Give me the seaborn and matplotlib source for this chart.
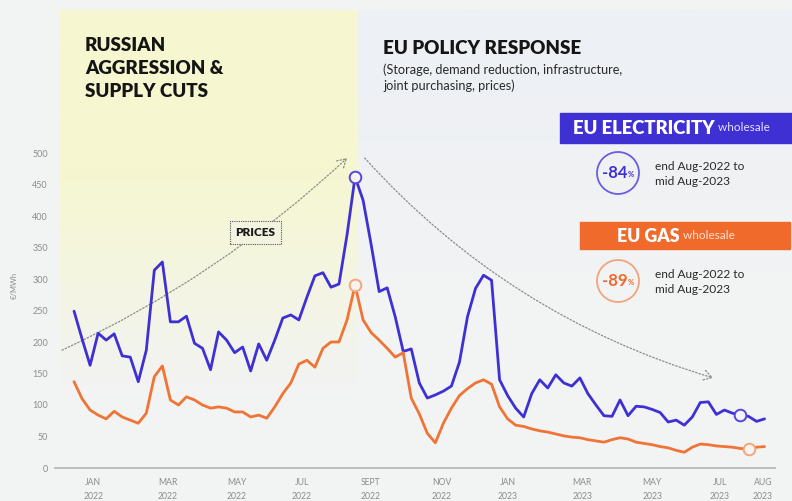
import numpy as np
import pandas as pd
import matplotlib
matplotlib.use("Agg")
import matplotlib.pyplot as plt
import seaborn as sns
from matplotlib.patches import Rectangle, Ellipse
from matplotlib.text import Annotation

# Weekly wholesale prices, EUR/MWh, mid-Dec 2021 to mid-Aug 2023
electricity = [
    249, 205, 163, 214, 203, 213, 178, 176, 137, 187,
    314, 327, 232, 232, 241, 198, 190, 156, 216, 203,
    183, 192, 154, 197, 171, 203, 238, 243, 235, 271,
    305, 310, 287, 292, 370, 462, 425, 355, 280, 286,
    240, 185, 189, 135, 111, 116, 122, 130, 168, 240,
    285, 306, 298, 140, 115, 95, 81, 118, 140, 127,
    148, 135, 130, 143, 118, 100, 83, 82, 108, 83,
    98, 97, 93, 88, 73, 76, 68, 81, 104, 105,
    85, 92, 87, 84, 82, 74, 78,
]
gas = [
    137, 110, 92, 84, 78, 90, 81, 76, 71, 87,
    145, 162, 108, 100, 113, 108, 100, 95, 97, 95,
    89, 89, 81, 84, 79, 97, 118, 135, 165, 171,
    160, 190, 200, 200, 235, 290, 235, 215, 203, 190,
    176, 183, 111, 86, 55, 40, 71, 95, 115, 126,
    135, 140, 133, 97, 78, 68, 66, 62, 59, 57,
    54, 51, 49, 48, 45, 43, 41, 45, 48, 46,
    41, 39, 37, 34, 32, 28, 25, 33, 38, 37,
    35, 34, 33, 31, 30, 33, 34,
]
weeks = list(range(len(electricity)))

tick_weeks = [2.4, 11.7, 20.3, 28.4, 36.9, 45.8, 54.0, 63.3, 72.0, 80.4, 85.8]
tick_labels = ["JAN\n2022", "MAR\n2022", "MAY\n2022", "JUL\n2022", "SEPT\n2022",
               "NOV\n2022", "JAN\n2023", "MAR\n2023", "MAY\n2023", "JUL\n2023",
               "AUG\n2023"]
y_ticks = [0, 50, 100, 150, 200, 250, 300, 350, 400, 450, 500]

peak_week = 35
elec_end_week = 83
gas_end_week = 84
elec_change = "-84"
gas_change = "-89"
period_text = "end Aug-2022 to\nmid Aug-2023"

BLUE = "#3f30d4"
ORANGE = "#ef7436"
BG = "#f2f3f3"
YELLOW = "#f6f7d0"

df = pd.DataFrame({
    "week": weeks * 2,
    "price": electricity + gas,
    "series": ["EU electricity"] * len(weeks) + ["EU gas"] * len(weeks),
})

sns.set_theme(style="white")
plt.rcParams["font.family"] = ["Lato", "DejaVu Sans"]

W, H = 792, 501
fig = plt.figure(figsize=(W / 100, H / 100), dpi=100, facecolor=BG)


def fx(px):
    return px / W


def fy(py):
    return 1 - py / H


def gradient_panel(x0, y0, x1, y1, rgb, solid_frac, fade_end):
    """Colour panel that fades into the page background towards the bottom."""
    pax = fig.add_axes([fx(x0), fy(y1), fx(x1) - fx(x0), fy(y0) - fy(y1)], zorder=0)
    n = 200
    t = np.linspace(0, 1, n)
    a = np.clip(1 - (t - solid_frac) / (fade_end - solid_frac), 0, 1)
    bg = np.array(matplotlib.colors.to_rgb(BG))
    col = np.array(matplotlib.colors.to_rgb(rgb))
    img = bg[None, :] * (1 - a[:, None]) + col[None, :] * a[:, None]
    img = np.repeat(img[:, None, :], 2, axis=1)
    pax.imshow(img, aspect="auto", extent=[0, 1, 0, 1], interpolation="bilinear")
    pax.set_axis_off()


gradient_panel(60, 10, 358, 460, YELLOW, 0.35, 0.85)
gradient_panel(358, 10, 792, 300, "#edf0f5", 0.15, 0.9)

ax = fig.add_axes([fx(55), fy(468), fx(775) - fx(55), fy(153) - fy(468)], zorder=2)
ax.patch.set_alpha(0)

sns.lineplot(data=df, x="week", y="price", hue="series",
             palette={"EU electricity": BLUE, "EU gas": ORANGE},
             linewidth=2.0, legend=False, ax=ax, zorder=3)

# Highlighted weeks: the August 2022 peak and mid-August 2023
ax.scatter([peak_week, elec_end_week], [electricity[peak_week], electricity[elec_end_week]],
           s=70, facecolor="#f4f4f8", edgecolor="#5546dc", linewidth=1.4, zorder=5)
ax.scatter([peak_week, gas_end_week], [gas[peak_week], gas[gas_end_week]],
           s=70, facecolor="#f7f3ee", edgecolor="#f3a57c", linewidth=1.4, zorder=5)

ax.set_xlim(-2.37, 87.3)
ax.set_ylim(0, 500)
ax.set_yticks(y_ticks)
ax.set_yticklabels([str(v) for v in y_ticks])
ax.set_xticks(tick_weeks)
ax.set_xticklabels(tick_labels)
ax.set_xlabel("")
ax.set_ylabel("")
ax.tick_params(axis="y", length=0, pad=5, labelsize=6.5, labelcolor="#8c8c8c")
ax.tick_params(axis="x", length=2.5, width=0.8, color="#b5b5b5", pad=5,
               labelsize=6.2, labelcolor="#8c8c8c")
for lab in ax.get_xticklabels():
    lab.set_linespacing(1.6)
for side in ["left", "right", "top"]:
    ax.spines[side].set_visible(False)
ax.spines["bottom"].set_color("#b8b8b8")
ax.spines["bottom"].set_linewidth(1.3)

fig.text(fx(14), fy(285), "€/MWh", rotation=90, fontsize=5.5, color="#8c8c8c",
         ha="center", va="center")

# Trend arrows
dotted = (0, (1.2, 1.6))
ax.annotate("", xy=(34.0, 492), xytext=(-1.5, 187),
            arrowprops=dict(arrowstyle="->,head_length=0.5,head_width=0.3", ls=dotted,
                            color="#8a8a8a", lw=0.9, shrinkA=0, shrinkB=0,
                            connectionstyle="arc3,rad=0.08"),
            annotation_clip=False, zorder=1)
ax.annotate("", xy=(79.6, 143), xytext=(36.2, 492),
            arrowprops=dict(arrowstyle="->,head_length=0.5,head_width=0.3", ls=dotted,
                            color="#8a8a8a", lw=0.9, shrinkA=0, shrinkB=0,
                            connectionstyle="arc3,rad=0.14"),
            annotation_clip=False, zorder=1)
ax.text(22.6, 374, "PRICES", ha="center", va="center", fontsize=8.5,
        fontweight="heavy", color="#1a1a1a", zorder=4,
        bbox=dict(boxstyle="square,pad=0.5", fc="#f3f4e0", ec="#555555",
                  ls=(0, (1, 1)), lw=0.8))

# Headings
fig.text(fx(85), fy(37), "RUSSIAN\nAGGRESSION &\nSUPPLY CUTS", ha="left", va="top",
         fontsize=13.5, fontweight="heavy", color="#151515", linespacing=1.43)
fig.text(fx(383), fy(48), "EU POLICY RESPONSE", ha="left", va="center",
         fontsize=13.5, fontweight="heavy", color="#151515")
fig.text(fx(383), fy(77.5), "(Storage, demand reduction, infrastructure,\njoint purchasing, prices)",
         ha="left", va="center", fontsize=9.2, color="#2a2a2a", linespacing=1.35)


def follow_text(anchor, s, **kw):
    """Place text right after another text artist, sharing its baseline area."""
    fig.add_artist(Annotation(s, xy=(1, 0.18), xycoords=anchor, va="bottom",
                              ha="left", **kw))


# Electricity badge
fig.add_artist(Rectangle((fx(560), fy(143)), fx(792) - fx(560), fy(113) - fy(143),
                         transform=fig.transFigure, color=BLUE, zorder=3))
t1 = fig.text(fx(573), fy(128), "EU ELECTRICITY", ha="left", va="center",
              fontsize=13.3, fontweight="heavy", color="white", zorder=4)
follow_text(t1, " wholesale", fontsize=8.5, color="#e4e1ff", zorder=4)

# Gas badge
fig.add_artist(Rectangle((fx(580), fy(249)), fx(790) - fx(580), fy(222) - fy(249),
                         transform=fig.transFigure, color="#f06a2c", zorder=3))
t2 = fig.text(fx(617), fy(236), "EU GAS", ha="left", va="center",
              fontsize=12.7, fontweight="heavy", color="white", zorder=4)
follow_text(t2, " wholesale", fontsize=8.5, color="#fde3d6", zorder=4)


def change_circle(cx, cy, value, color, edge):
    r = 21
    fig.add_artist(Ellipse((fx(cx), fy(cy)), 2 * r / W, 2 * r / H,
                           transform=fig.transFigure, fc="none", ec=edge, lw=1.3))
    v = fig.text(fx(cx - 3), fy(cy), value, ha="center", va="center",
                 fontsize=12, fontweight="bold", color=color)
    follow_text(v, "%", fontsize=5.5, fontweight="bold", color=color)
    fig.text(fx(cx + 37), fy(cy + 1), period_text, ha="left", va="center",
             fontsize=8.6, color="#2a2a2a", linespacing=1.45)


change_circle(618, 173, elec_change, BLUE, "#6a5ee0")
change_circle(618, 281, gas_change, "#ee6a2c", "#f2a47c")

fig.savefig("out.png", dpi=100, facecolor=BG)
